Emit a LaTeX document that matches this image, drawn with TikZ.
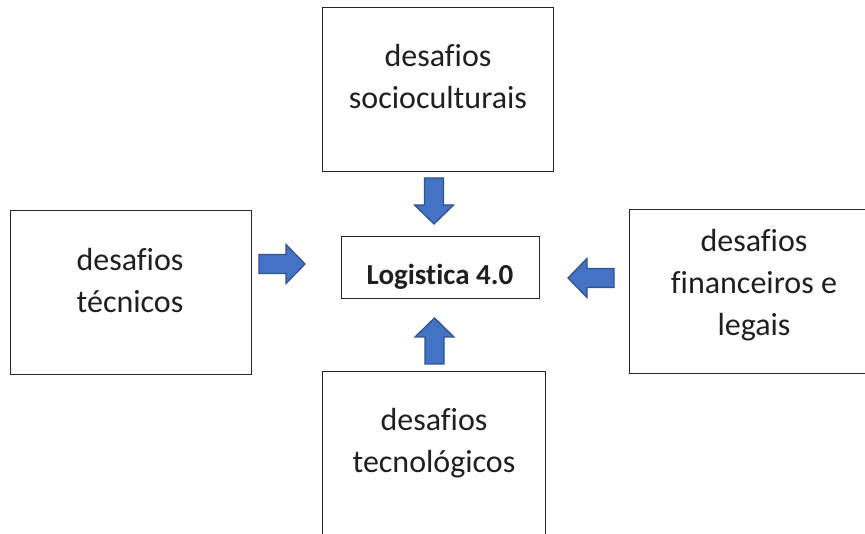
\documentclass[tikz,border=0pt]{standalone}
\usepackage{fontspec}
\setmainfont{Carlito}[Ligatures=NoCommon]
\definecolor{arrowfill}{HTML}{4472C4}
\definecolor{arrowline}{HTML}{2F528F}
\definecolor{boxline}{HTML}{262626}
\begin{document}
\begin{tikzpicture}[x=1pt,y=1pt,
  box/.style={draw=boxline,line width=1.1pt,fill=white,inner sep=0pt,anchor=south west},
  label/.style={align=center,font=\fontsize{32}{42}\selectfont,text=black!88,inner sep=0pt,anchor=base},
  blockarrow/.pic={\draw[fill=arrowfill,draw=arrowline,line width=1.3pt,line join=miter]
      (0,-9.5)--(27,-9.5)--(27,-19.5)--(46,0)--(27,19.5)--(27,9.5)--(0,9.5)--cycle;}]
  \useasboundingbox (0,0) rectangle (865,533);
  \clip (0,0) rectangle (865,533);

  % outer boxes
  \node[box,minimum width=231pt,minimum height=164pt] (topbox) at (322,361) {};
  \node[box,minimum width=241pt,minimum height=164pt] (leftbox) at (10,158) {};
  \node[box,minimum width=250pt,minimum height=164pt] (rightbox) at (629,159) {};
  \node[box,minimum width=223pt,minimum height=168pt] (bottombox) at (322,-7) {};

  % central box
  \node[box,minimum width=198pt,minimum height=62pt] (center) at (341,234) {};

  % texts (anchored at the baseline of their last line)
  \node[label] (toptext) at (438,424) {desafios\\socioculturais};
  \node[label] (lefttext) at (130,220) {desafios\\técnicos};
  \node[label] (righttext) at (754,197) {desafios\\financeiros e\\legais};
  \node[label] (bottomtext) at (434,60) {desafios\\tecnológicos};
  \node[label,font=\fontsize{29}{34}\selectfont\bfseries] (centertext) at (440,248) {Logistica 4.0};

  % block arrows pointing at the centre
  \pic[rotate=-90] (adown) at (434,355) {blockarrow};
  \pic (aright) at (259,269) {blockarrow};
  \pic[rotate=180] (aleft) at (614,255) {blockarrow};
  \pic[rotate=90] (aup) at (434.5,169) {blockarrow};
\end{tikzpicture}
\end{document}
